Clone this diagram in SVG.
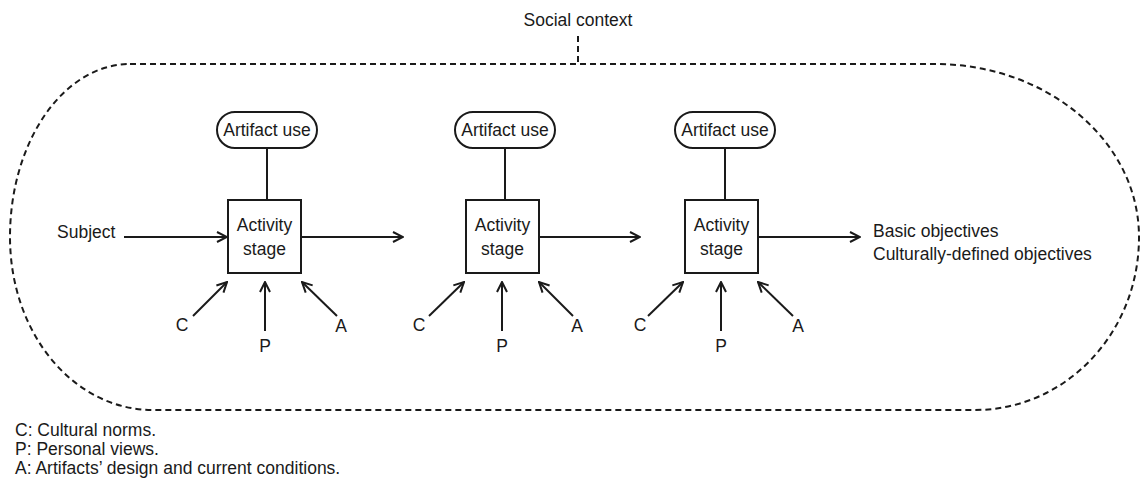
<svg xmlns="http://www.w3.org/2000/svg" width="1144" height="485" viewBox="0 0 1144 485">
  <defs>
    <style>
      text { font-family: "Liberation Sans", Arial, sans-serif; font-size: 17.5px; fill: #1a1a1a; }
      .mid { text-anchor: middle; }
      .ln { stroke: #1a1a1a; stroke-width: 2; fill: none; }
      .dash { stroke: #1a1a1a; stroke-width: 2; fill: none; stroke-dasharray: 6 4; }
      .box { stroke: #1a1a1a; stroke-width: 2; fill: #ffffff; }
    </style>
    <marker id="arrow" viewBox="0 0 12 12" refX="11" refY="6" markerWidth="12" markerHeight="12" markerUnits="userSpaceOnUse" orient="auto">
      <path d="M1 1 L11 6 L1 11" fill="none" stroke="#1a1a1a" stroke-width="2"/>
    </marker>
  </defs>
  <rect width="1144" height="485" fill="#ffffff"/>

  <!-- social context boundary -->
  <g id="social-context">
    <text x="578" y="26" class="mid">Social context</text>
    <line x1="578" y1="36" x2="578" y2="64" class="dash"/>
    <path class="dash" d="M130 64 L935 64 C1047 64 1139 141 1139 237 C1139 334 1065 410 975 410 L153 410 C74 410 10 334 10 237 C10 141 64 64 130 64 Z"/>
  </g>

  <!-- stage 1 -->
  <g id="artifact-1">
    <rect class="box" x="217" y="112" width="100" height="36" rx="18"/>
    <text x="267" y="136" class="mid">Artifact use</text>
  </g>
  <g id="stage-1">
    <rect class="box" x="228" y="200" width="73" height="73"/>
    <text x="264.5" y="231" class="mid">Activity</text>
    <text x="264.5" y="255" class="mid">stage</text>
  </g>

  <!-- stage 2 -->
  <g id="artifact-2">
    <rect class="box" x="455" y="112" width="100" height="36" rx="18"/>
    <text x="505" y="136" class="mid">Artifact use</text>
  </g>
  <g id="stage-2">
    <rect class="box" x="466" y="200" width="73" height="73"/>
    <text x="502.5" y="231" class="mid">Activity</text>
    <text x="502.5" y="255" class="mid">stage</text>
  </g>

  <!-- stage 3 -->
  <g id="artifact-3">
    <rect class="box" x="675" y="112" width="100" height="36" rx="18"/>
    <text x="725" y="136" class="mid">Artifact use</text>
  </g>
  <g id="stage-3">
    <rect class="box" x="685" y="200" width="73" height="73"/>
    <text x="721.5" y="231" class="mid">Activity</text>
    <text x="721.5" y="255" class="mid">stage</text>
  </g>

  <!-- inputs and outputs -->
  <g id="subject"><text x="57" y="238">Subject</text></g>
  <g id="objectives">
    <text x="873" y="237">Basic objectives</text>
    <text x="873" y="260">Culturally-defined objectives</text>
  </g>
  <g id="influences">
    <text x="182" y="331" class="mid">C</text>
    <text x="265" y="352" class="mid">P</text>
    <text x="341" y="332" class="mid">A</text>
    <text x="419" y="331" class="mid">C</text>
    <text x="502" y="352" class="mid">P</text>
    <text x="577" y="332" class="mid">A</text>
    <text x="640" y="331" class="mid">C</text>
    <text x="721" y="352" class="mid">P</text>
    <text x="798" y="332" class="mid">A</text>
  </g>

  <!-- connectors -->
  <g id="connectors">
    <line class="ln" x1="267" y1="148" x2="267" y2="200"/>
    <line class="ln" x1="505" y1="148" x2="505" y2="200"/>
    <line class="ln" x1="725" y1="148" x2="725" y2="200"/>

    <line class="ln" x1="124" y1="237" x2="227" y2="237" marker-end="url(#arrow)"/>
    <line class="ln" x1="301" y1="237" x2="403" y2="237" marker-end="url(#arrow)"/>
    <line class="ln" x1="539" y1="237" x2="640" y2="237" marker-end="url(#arrow)"/>
    <line class="ln" x1="758" y1="237" x2="860" y2="237" marker-end="url(#arrow)"/>

    <line class="ln" x1="193" y1="316" x2="227" y2="282" marker-end="url(#arrow)"/>
    <line class="ln" x1="265" y1="331" x2="265" y2="282" marker-end="url(#arrow)"/>
    <line class="ln" x1="337" y1="316" x2="302" y2="282" marker-end="url(#arrow)"/>

    <line class="ln" x1="429" y1="316" x2="464" y2="282" marker-end="url(#arrow)"/>
    <line class="ln" x1="502" y1="331" x2="502" y2="282" marker-end="url(#arrow)"/>
    <line class="ln" x1="573" y1="316" x2="539" y2="282" marker-end="url(#arrow)"/>

    <line class="ln" x1="648" y1="316" x2="683" y2="282" marker-end="url(#arrow)"/>
    <line class="ln" x1="721" y1="331" x2="721" y2="282" marker-end="url(#arrow)"/>
    <line class="ln" x1="793" y1="316" x2="758" y2="282" marker-end="url(#arrow)"/>
  </g>

  <!-- legend -->
  <g id="legend">
    <text x="15" y="436">C: Cultural norms.</text>
    <text x="15" y="455">P: Personal views.</text>
    <text x="15" y="474">A: Artifacts’ design and current conditions.</text>
  </g>
</svg>
